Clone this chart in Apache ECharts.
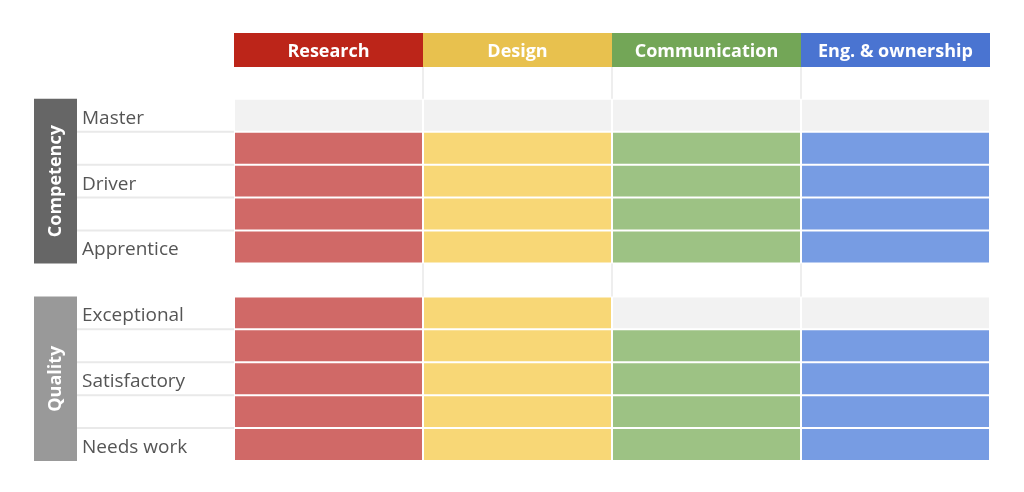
<!DOCTYPE html>
<html>
<head>
<meta charset="utf-8">
<script src="https://cdn.jsdelivr.net/npm/echarts@6/dist/echarts.min.js"></script>
<style>
  html, body { margin: 0; padding: 0; background: #fff; }
  #chart { width: 1024px; height: 492px; }
</style>
</head>
<body>
<div id="chart"></div>
<script>
// skill matrix
var columns = ['Research', 'Design', 'Communication', 'Eng. & ownership'];
var headerColors = ['#bc2519', '#e8c14e', '#73a657', '#4a74d1'];
var cellColors = ['#d06967', '#f8d776', '#9dc284', '#779ce3'];

// row 0 = header, row 1 = spacer, row 7 = gap between groups
var rowLabels = ['', '', 'Master', '', 'Driver', '', 'Apprentice', '',
                 'Exceptional', '', 'Satisfactory', '', 'Needs work'];
var spacerRows = [1, 7];

// groups of 5 levels, filled from the bottom
var groupNames = ['Competency', 'Quality'];
var groupStart = [2, 8];
var groupColors = ['#666666', '#999999'];
var competencyFilled = [4, 4, 4, 4];
var qualityFilled = [5, 5, 4, 4];
var groupFilled = [competencyFilled, qualityFilled];
var levelsPerGroup = 5;

var emptyColor = '#f2f2f2';
var font = '"Open Sans", sans-serif';

// build cells
var cellData = [];
var cellFill = [];
for (var g = 0; g < groupNames.length; g++) {
    for (var c = 0; c < columns.length; c++) {
        for (var k = 0; k < levelsPerGroup; k++) {
            var row = groupStart[g] + k;
            var levelFromBottom = levelsPerGroup - 1 - k;
            cellData.push([c, row]);
            cellFill.push(levelFromBottom < groupFilled[g][c] ? cellColors[c] : emptyColor);
        }
    }
}

var headerData = columns.map(function (name, i) { return [i, 0]; });

var spacerData = [];
spacerRows.forEach(function (r) {
    for (var c = 1; c < columns.length; c++) spacerData.push([c, r]);
});

var groupData = groupNames.map(function (name, i) { return [0, groupStart[i]]; });

var ruleData = [];
groupStart.forEach(function (s) {
    for (var k = 1; k < levelsPerGroup; k++) ruleData.push([0, s + k]);
});

function cellBox(api, x, y) {
    var p = api.coord([x, y]);
    var s = api.size([1, 1]);
    return { x: p[0] - s[0] / 2, y: p[1] - s[1] / 2, w: s[0], h: s[1] };
}

var dom = document.getElementById('chart');
var myChart = echarts.init(dom);
var option = {
    animation: false,
    grid: { left: 234, right: 34, top: 33, bottom: 31 },
    xAxis: {
        type: 'category',
        data: columns,
        show: false
    },
    yAxis: {
        type: 'category',
        data: rowLabels,
        inverse: true,
        axisLine: { show: false },
        axisTick: { show: false },
        splitLine: { show: false },
        axisLabel: {
            interval: 0,
            align: 'left',
            verticalAlign: 'top',
            lineHeight: 6,
            margin: 152,
            color: '#555555',
            fontSize: 19,
            fontFamily: font
        }
    },
    series: [
        {
            name: 'rules',
            type: 'custom',
            silent: true,
            data: ruleData,
            renderItem: function (params, api) {
                var b = cellBox(api, api.value(0), api.value(1));
                return {
                    type: 'line',
                    shape: { x1: b.x - 157, y1: b.y, x2: b.x, y2: b.y },
                    style: { stroke: '#e9e9e9', lineWidth: 2 }
                };
            }
        },
        {
            name: 'spacers',
            type: 'custom',
            silent: true,
            data: spacerData,
            renderItem: function (params, api) {
                var b = cellBox(api, api.value(0), api.value(1));
                return {
                    type: 'line',
                    shape: { x1: b.x, y1: b.y, x2: b.x, y2: b.y + b.h },
                    style: { stroke: '#eeeeee', lineWidth: 2 }
                };
            }
        },
        {
            name: 'cells',
            type: 'custom',
            silent: true,
            data: cellData,
            renderItem: function (params, api) {
                var b = cellBox(api, api.value(0), api.value(1));
                return {
                    type: 'rect',
                    shape: { x: b.x + 1, y: b.y + 1, width: b.w - 2, height: b.h - 2 },
                    style: { fill: cellFill[params.dataIndex] }
                };
            }
        },
        {
            name: 'headers',
            type: 'custom',
            silent: true,
            data: headerData,
            renderItem: function (params, api) {
                var i = params.dataIndex;
                var b = cellBox(api, api.value(0), api.value(1));
                return {
                    type: 'group',
                    children: [
                        {
                            type: 'rect',
                            shape: { x: b.x, y: b.y, width: b.w, height: b.h + 1 },
                            style: { fill: headerColors[i] }
                        },
                        {
                            type: 'text',
                            style: {
                                text: columns[i],
                                x: b.x + b.w / 2,
                                y: b.y + b.h / 2 + 2,
                                align: 'center',
                                verticalAlign: 'middle',
                                fill: '#ffffff',
                                fontSize: 18,
                                fontWeight: 'bold',
                                fontFamily: font
                            }
                        }
                    ]
                };
            }
        },
        {
            name: 'groups',
            type: 'custom',
            silent: true,
            data: groupData,
            renderItem: function (params, api) {
                var i = params.dataIndex;
                var top = cellBox(api, 0, groupStart[i]);
                var bottom = cellBox(api, 0, groupStart[i] + levelsPerGroup - 1);
                var x = top.x - 200;
                var w = 43;
                var y = top.y;
                var h = bottom.y + bottom.h - top.y;
                return {
                    type: 'group',
                    children: [
                        {
                            type: 'rect',
                            shape: { x: x, y: y, width: w, height: h },
                            style: { fill: groupColors[i] }
                        },
                        {
                            type: 'text',
                            x: x + w / 2,
                            y: y + h / 2,
                            rotation: Math.PI / 2,
                            style: {
                                text: groupNames[i],
                                x: 0,
                                y: 0,
                                align: 'center',
                                verticalAlign: 'middle',
                                fill: '#ffffff',
                                fontSize: 18,
                                fontWeight: 'bold',
                                fontFamily: font
                            }
                        }
                    ]
                };
            }
        }
    ]
};
if (option && typeof option === 'object') {
    myChart.setOption(option, true);
    window.onresize = myChart.resize;
}
</script>
</body>
</html>
